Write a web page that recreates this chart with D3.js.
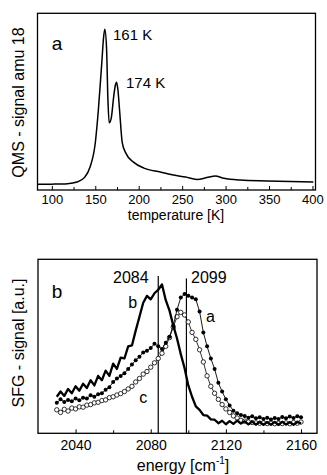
<!DOCTYPE html>
<html>
<head>
<meta charset="utf-8">
<script src="https://cdn.jsdelivr.net/npm/d3@7"></script>
<style>
  body { margin: 0; background: #fff; }
  text { font-family: "Liberation Sans", Arial, sans-serif; fill: #000; }
</style>
</head>
<body>
<div id="chart"></div>
<script>
// panel a - thermal desorption (QMS amu 18)
const temperature = [84, 100, 118, 129, 138, 144, 150, 153.5, 157.5, 159.5, 161, 163, 164.5, 166, 168.5, 171, 173, 174.5, 176, 178, 181, 185, 194, 206, 225, 240, 254, 267, 280, 288, 298, 317, 348, 401];
const qmsSignal   = [3.2, 3.3, 3.6, 4.5, 7.3, 13, 26.6, 45, 72, 86, 91, 80, 52, 38, 41, 52, 59, 61, 57, 45, 27, 21, 15.8, 12.4, 10.2, 8.5, 7.3, 6.0, 7.2, 7.9, 6.6, 5.6, 5.1, 4.5];
const tempTicks = [100, 150, 200, 250, 300, 350, 400];
const tempMinor = [125, 175, 225, 275, 325, 375];

// panel b - SFG spectra
const energy = [2030, 2032, 2034, 2036, 2038, 2040, 2042, 2044, 2046, 2048, 2050, 2052, 2054, 2056, 2058, 2060, 2062, 2064, 2066, 2068,
                2070, 2072, 2074, 2076, 2078, 2080, 2082, 2084, 2086, 2088, 2090, 2092, 2094, 2096, 2098, 2100, 2102, 2104, 2106, 2108,
                2110, 2112, 2114, 2116, 2118, 2120, 2122, 2124, 2126, 2128, 2130, 2132, 2134, 2136, 2138, 2140, 2142, 2144, 2146, 2148,
                2150, 2152, 2154, 2156, 2158, 2160];
const sfgB = [21.0, 24.0, 21.5, 25.5, 23.0, 27.0, 24.5, 28.5, 26.0, 30.5, 27.5, 33.0, 30.5, 36.0, 33.0, 40.0, 37.0, 43.5, 43.0, 50.0,
              50.5, 59.0, 67.0, 75.0, 79.0, 77.0, 80.5, 82.5, 85.5, 76.5, 70.5, 62.0, 54.5, 45.5, 37.5, 27.5, 21.0, 15.5, 13.5, 10.5,
              10.2, 8.0, 7.8, 5.8, 7.2, 5.2, 7.0, 5.4, 7.3, 5.6, 6.9, 5.1, 6.7, 5.0, 6.5, 4.9, 6.4, 5.0, 6.5, 4.9,
              6.6, 5.1, 6.4, 4.9, 6.5, 5.7];
const sfgA = [17.5, 19.5, 18.0, 19.2, 18.4, 20.0, 19.0, 20.5, 20.0, 21.8, 21.0, 22.5, 23.0, 25.0, 26.5, 29.5, 31.5, 33.0, 34.5, 37.0,
              39.5, 42.0, 44.0, 46.5, 47.5, 49.0, 51.5, 50.0, 48.5, 52.0, 55.5, 62.0, 71.0, 78.0, 80.0, 79.0, 78.0, 77.0, 70.0, 58.0,
              50.0, 43.0, 37.0, 29.0, 24.0, 19.5, 16.0, 13.0, 11.5, 10.5, 10.0, 9.0, 9.8, 8.6, 9.2, 8.2, 9.0, 8.0, 8.8, 8.2,
              9.4, 8.6, 9.6, 8.8, 9.8, 9.2];
const sfgC = [13.5, 12.0, 13.8, 12.8, 14.5, 14.0, 15.2, 15.0, 16.2, 16.5, 17.5, 17.8, 18.8, 19.2, 20.5, 21.0, 22.0, 22.8, 24.0, 25.5,
              27.0, 29.5, 31.5, 34.0, 35.5, 38.0, 40.5, 43.0, 46.0, 50.0, 55.0, 61.0, 67.0, 69.5, 68.0, 64.0, 58.0, 54.0, 48.0, 41.0,
              33.0, 27.0, 23.0, 19.5, 16.5, 14.0, 12.0, 10.0, 8.8, 7.5, 7.0, 6.5, 6.2, 6.0, 5.8, 6.0, 5.6, 5.8, 5.5, 5.8,
              5.6, 6.0, 5.5, 6.2, 5.8, 6.5];
const energyTicks = [2040, 2080, 2120, 2160];
const energyMinor = [2060, 2100, 2140];
const peakLines = [2084, 2099];

const width = 327, height = 475;

const svg = d3.select("#chart").append("svg")
    .attr("width", width)
    .attr("height", height);

function frameAxes(g, x, y, ticks, minor, fontSize, pad) {
    const [x0, x1] = x.range();
    const [y0, y1] = y.range();
    g.append("g")
        .attr("transform", `translate(0,${y0})`)
        .call(d3.axisBottom(x).tickValues(minor).tickSize(-3).tickFormat(""))
        .call(a => a.select(".domain").remove());
    g.append("g")
        .attr("transform", `translate(0,${y0})`)
        .call(d3.axisBottom(x).tickValues(ticks).tickSize(-4).tickPadding(pad).tickFormat(d3.format("d")))
        .call(a => a.select(".domain").remove())
        .call(a => a.selectAll("text")
            .attr("font-size", fontSize)
            .attr("font-family", "Liberation Sans, Arial, sans-serif"));
    g.append("rect")
        .attr("x", x0).attr("y", y1)
        .attr("width", x1 - x0).attr("height", y0 - y1)
        .attr("fill", "none")
        .attr("stroke", "#000")
        .attr("stroke-width", 1.3);
}

// ---------- panel a ----------
const xa = d3.scaleLinear().domain([83.5, 403.5]).range([37.5, 315.5]);
const ya = d3.scaleLinear().domain([0, 100]).range([190, 13.3]);
const ga = svg.append("g");

ga.append("path")
    .datum(temperature.map((t, i) => [t, qmsSignal[i]]))
    .attr("fill", "none")
    .attr("stroke", "#000")
    .attr("stroke-width", 1.5)
    .attr("d", d3.line().x(d => xa(d[0])).y(d => ya(d[1])).curve(d3.curveMonotoneX));

frameAxes(ga, xa, ya, tempTicks, tempMinor, 13, 5);

ga.append("text").attr("x", 51.7).attr("y", 50).attr("font-size", 19).text("a");
ga.append("text").attr("x", 113).attr("y", 39.5).attr("font-size", 15).text("161 K");
ga.append("text").attr("x", 126).attr("y", 88.3).attr("font-size", 15).text("174 K");
ga.append("text")
    .attr("x", 176).attr("y", 220)
    .attr("text-anchor", "middle")
    .attr("font-size", 14)
    .text("temperature [K]");
ga.append("text")
    .attr("transform", "translate(23.5,102.5) rotate(-90)")
    .attr("text-anchor", "middle")
    .attr("font-size", 16)
    .text("QMS - signal amu 18");

// ---------- panel b ----------
const xb = d3.scaleLinear().domain([2020, 2168.5]).range([38, 317]);
const yb = d3.scaleLinear().domain([0, 100]).range([433.3, 259.3]);
const gb = svg.append("g");

const lineB = d3.line().x(d => xb(d[0])).y(d => yb(d[1]));
const ptsC = energy.map((e, i) => [e, sfgC[i]]);
const ptsA = energy.map((e, i) => [e, sfgA[i]]);
const ptsB = energy.map((e, i) => [e, sfgB[i]]);

// peak position lines
gb.selectAll(".peak")
    .data(peakLines)
    .join("line")
    .attr("x1", d => xb(d)).attr("x2", d => xb(d))
    .attr("y1", yb(0)).attr("y2", (d, i) => yb(i === 0 ? 90.4 : 89))
    .attr("stroke", "#000")
    .attr("stroke-width", 1.2);

// c : open circles
gb.append("path").datum(ptsC)
    .attr("fill", "none").attr("stroke", "#000").attr("stroke-width", 0.8)
    .attr("d", lineB);
gb.selectAll(".pc").data(ptsC).join("circle")
    .attr("cx", d => xb(d[0])).attr("cy", d => yb(d[1]))
    .attr("r", 2.2)
    .attr("fill", "#fff").attr("stroke", "#000").attr("stroke-width", 0.8);

// a : filled circles
gb.append("path").datum(ptsA)
    .attr("fill", "none").attr("stroke", "#000").attr("stroke-width", 0.9)
    .attr("d", lineB);
gb.selectAll(".pa").data(ptsA).join("circle")
    .attr("cx", d => xb(d[0])).attr("cy", d => yb(d[1]))
    .attr("r", 2)
    .attr("fill", "#000");

// b : thick line
gb.append("path").datum(ptsB)
    .attr("fill", "none").attr("stroke", "#000").attr("stroke-width", 2.3)
    .attr("stroke-linejoin", "round")
    .attr("d", lineB);

frameAxes(gb, xb, yb, energyTicks, energyMinor, 14, 6.5);

gb.append("text").attr("x", 51.7).attr("y", 298.3).attr("font-size", 19).text("b");
gb.append("text").attr("x", 113).attr("y", 282.7).attr("font-size", 16).text("2084");
gb.append("text").attr("x", 191).attr("y", 282.7).attr("font-size", 16).text("2099");
gb.append("text").attr("x", 128.3).attr("y", 308.3).attr("font-size", 16).text("b");
gb.append("text").attr("x", 206).attr("y", 321.7).attr("font-size", 16).text("a");
gb.append("text").attr("x", 139.3).attr("y", 403.3).attr("font-size", 16).text("c");

const xl = gb.append("text")
    .attr("x", 183).attr("y", 471)
    .attr("text-anchor", "middle")
    .attr("font-size", 16);
xl.append("tspan").text("energy [cm");
xl.append("tspan").attr("font-size", 10).attr("dy", -7).text("-1");
xl.append("tspan").attr("dy", 7).text("]");

gb.append("text")
    .attr("transform", "translate(23.5,343) rotate(-90)")
    .attr("text-anchor", "middle")
    .attr("font-size", 16)
    .text("SFG - signal [a.u.]");
</script>
</body>
</html>
